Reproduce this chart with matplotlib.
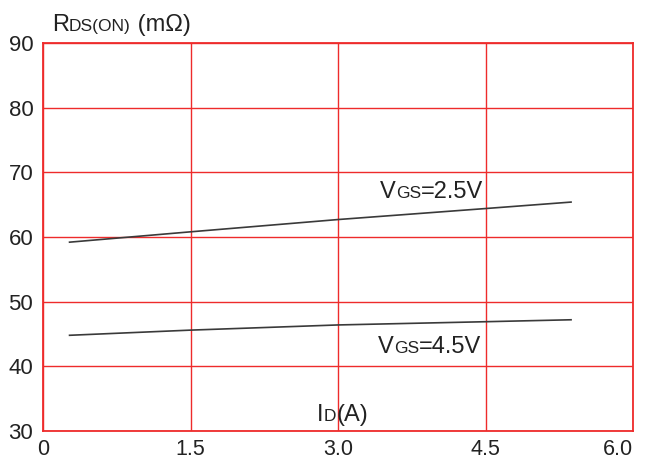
import matplotlib
matplotlib.use("Agg")
from matplotlib import pyplot as plt

# drain current (A) and on-resistance (mOhm)
id_a = [0.27, 1.5, 3.0, 4.5, 5.37]
r_vgs25 = [59.2, 60.8, 62.7, 64.4, 65.4]
r_vgs45 = [44.8, 45.6, 46.4, 46.9, 47.2]

x_ticks = [0, 1.5, 3.0, 4.5, 6.0]
x_labels = ["0", "1.5", "3.0", "4.5", "6.0"]
y_ticks = [30, 40, 50, 60, 70, 80, 90]

red = "#ee2b2b"
ink = "#222222"
big = 17
small = 12.5

plt.rcParams["font.family"] = ["Liberation Sans", "DejaVu Sans"]

fig = plt.figure(figsize=(6.45, 4.61), dpi=100)
ax = fig.add_axes([43 / 645, 30 / 461, 590 / 645, 388 / 461])

ax.plot(id_a, r_vgs25, color="#3a3a3a", lw=1.2)
ax.plot(id_a, r_vgs45, color="#3a3a3a", lw=1.2)

ax.set_xlim(0, 6)
ax.set_ylim(30, 90)
ax.set_xticks(x_ticks)
ax.set_xticklabels(x_labels)
ax.set_yticks(y_ticks)
ax.tick_params(length=0, labelsize=16, colors=ink)
ax.tick_params(axis="x", pad=6, labelsize=15.5)
ax.tick_params(axis="y", pad=7)
ax.grid(True, color=red, lw=1.0)
for s in ax.spines.values():
    s.set_color(red)
    s.set_linewidth(1.3)
# last x label sits against the right edge, as in the original
ax.get_xticklabels()[-1].set_horizontalalignment("right")
ax.get_xticklabels()[-1].set_x(6.0)

fig.canvas.draw()
renderer = fig.canvas.get_renderer()


def rich(x, y, parts):
    # draw text pieces of mixed size on one baseline, starting at data point (x, y)
    px, py = ax.transData.transform((x, y))
    for s, size in parts:
        t = fig.text(px, py, s, fontsize=size, color=ink, va="baseline",
                     ha="left", transform=None)
        px = t.get_window_extent(renderer).x1


rich(3.43, 66.0, [("V", big), ("GS", small), ("=2.5V", big)])
rich(3.41, 42.1, [("V", big), ("GS", small), ("=4.5V", big)])
rich(2.79, 31.6, [("I", big), ("D", small), ("(A)", big)])
rich(0.09, 91.9, [("R", big), ("DS(ON)", small), (" (m\u03a9)", big)])

fig.savefig("out.png", dpi=100)
